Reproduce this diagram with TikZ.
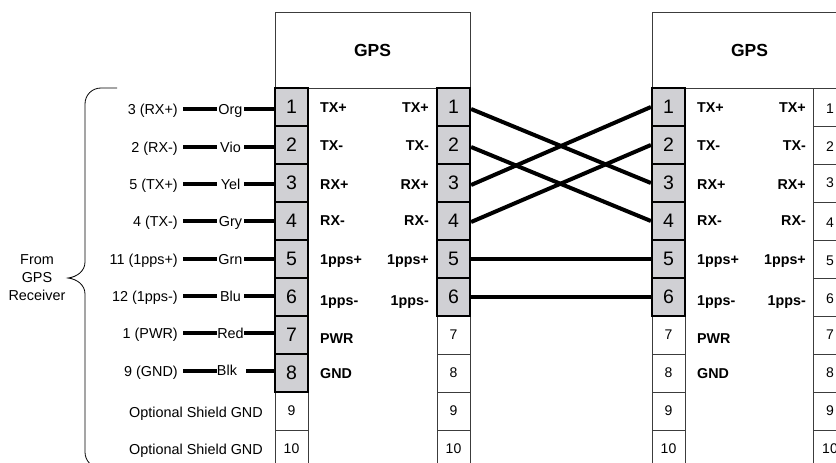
\documentclass[tikz,border=0pt]{standalone}
\usepackage{fontspec}
\setmainfont{Liberation Sans}
\usepackage{tikz}
\definecolor{pingray}{RGB}{208,208,212}
\definecolor{boxline}{RGB}{60,60,60}
\tikzset{
  gpsbox/.style={draw=boxline, line width=0.9pt, minimum width=195pt, minimum height=76pt, inner sep=0pt, font=\fontsize{17.5}{20}\selectfont\bfseries},
  bigpin/.style={draw=black, fill=pingray, line width=2.2pt, minimum width=33pt, minimum height=38pt, inner sep=0pt, font=\fontsize{19.5}{22}\selectfont},
  smallpin/.style={draw=boxline, fill=white, line width=0.9pt, minimum width=33pt, minimum height=38pt, inner sep=0pt, font=\fontsize{14}{16}\selectfont},
  lowpin/.style={smallpin, text height=13.4pt, text depth=0pt},
  plain/.style={inner sep=0pt, text height=10.3pt, text depth=0pt, font=\fontsize{14.4}{17}\selectfont},
  source/.style={plain, anchor=east, inner xsep=5pt},
  wirename/.style={plain, minimum width=27pt},
  sigleft/.style={plain, anchor=west, font=\fontsize{14.3}{17}\selectfont\bfseries},
  sigright/.style={plain, anchor=east, font=\fontsize{14.3}{17}\selectfont\bfseries},
  wire/.style={line width=4pt, black},
}
\begin{document}
\begin{tikzpicture}[x=1pt, y=-1pt]
      \clip (0, 0) rectangle (836, 463);
      \useasboundingbox (0, 0) rectangle (836, 463);
      % headers
      \node[gpsbox] (gpsa) at (372.5, 50) {GPS};
      \node[gpsbox] (gpsb) at (749.5, 50) {GPS};
      % unused pins
      \node[smallpin] (a9)  at (291.5, 411) {9};
      \node[smallpin] (a10) at (291.5, 449) {10};
      \node[smallpin] (c7)  at (453.5, 335) {7};
      \node[smallpin] (c8)  at (453.5, 373) {8};
      \node[smallpin] (c9)  at (453.5, 411) {9};
      \node[smallpin] (c10) at (453.5, 449) {10};
      \node[smallpin] (b7)  at (668.5, 335) {7};
      \node[smallpin] (b8)  at (668.5, 373) {8};
      \node[smallpin] (b9)  at (668.5, 411) {9};
      \node[smallpin] (b10) at (668.5, 449) {10};
      \node[lowpin]   (d1)  at (830, 107) {1};
      \node[lowpin]   (d2)  at (830, 145) {2};
      \node[smallpin] (d3)  at (830, 183) {3};
      \node[lowpin]   (d4)  at (830, 221) {4};
      \node[lowpin]   (d5)  at (830, 259) {5};
      \node[lowpin]   (d6)  at (830, 297) {6};
      \node[smallpin] (d7)  at (830, 335) {7};
      \node[smallpin] (d8)  at (830, 373) {8};
      \node[smallpin] (d9)  at (830, 411) {9};
      \node[smallpin] (d10) at (830, 449) {10};
      % wired pins
      \node[bigpin] (a1) at (291.5, 107) {1};
      \node[bigpin] (a2) at (291.5, 145) {2};
      \node[bigpin] (a3) at (291.5, 183) {3};
      \node[bigpin] (a4) at (291.5, 221) {4};
      \node[bigpin] (a5) at (291.5, 259) {5};
      \node[bigpin] (a6) at (291.5, 297) {6};
      \node[bigpin] (a7) at (291.5, 335) {7};
      \node[bigpin] (a8) at (291.5, 373) {8};
      \node[bigpin] (c1) at (453.5, 107) {1};
      \node[bigpin] (c2) at (453.5, 145) {2};
      \node[bigpin] (c3) at (453.5, 183) {3};
      \node[bigpin] (c4) at (453.5, 221) {4};
      \node[bigpin] (c5) at (453.5, 259) {5};
      \node[bigpin] (c6) at (453.5, 297) {6};
      \node[bigpin] (b1) at (668.5, 107) {1};
      \node[bigpin] (b2) at (668.5, 145) {2};
      \node[bigpin] (b3) at (668.5, 183) {3};
      \node[bigpin] (b4) at (668.5, 221) {4};
      \node[bigpin] (b5) at (668.5, 259) {5};
      \node[bigpin] (b6) at (668.5, 297) {6};
      % signal names
      \node[sigleft]  (ta1) at (320, 107) {TX+};
      \node[sigleft]  (ta2) at (320, 145) {TX-};
      \node[sigleft]  (ta3) at (320, 184) {RX+};
      \node[sigleft]  (ta4) at (320, 220) {RX-};
      \node[sigleft]  (ta5) at (320, 259) {1pps+};
      \node[sigleft]  (ta6) at (320, 300) {1pps-};
      \node[sigleft]  (ta7) at (320, 338) {PWR};
      \node[sigleft]  (ta8) at (320, 373) {GND};
      \node[sigright] (tc1) at (429, 107) {TX+};
      \node[sigright] (tc2) at (429, 145) {TX-};
      \node[sigright] (tc3) at (429, 184) {RX+};
      \node[sigright] (tc4) at (429, 220) {RX-};
      \node[sigright] (tc5) at (429, 259) {1pps+};
      \node[sigright] (tc6) at (429, 300) {1pps-};
      \node[sigleft]  (tb1) at (697, 107) {TX+};
      \node[sigleft]  (tb2) at (697, 145) {TX-};
      \node[sigleft]  (tb3) at (697, 184) {RX+};
      \node[sigleft]  (tb4) at (697, 220) {RX-};
      \node[sigleft]  (tb5) at (697, 259) {1pps+};
      \node[sigleft]  (tb6) at (697, 300) {1pps-};
      \node[sigleft]  (tb7) at (697, 338) {PWR};
      \node[sigleft]  (tb8) at (697, 373) {GND};
      \node[sigright] (td1) at (806, 107) {TX+};
      \node[sigright] (td2) at (806, 145) {TX-};
      \node[sigright] (td3) at (806, 184) {RX+};
      \node[sigright] (td4) at (806, 220) {RX-};
      \node[sigright] (td5) at (806, 259) {1pps+};
      \node[sigright] (td6) at (806, 300) {1pps-};
      % receiver side
      \node[source] (s1) at (183, 109) {3 (RX+)};
      \node[source] (s2) at (183, 147) {2 (RX-)};
      \node[source] (s3) at (183, 184) {5 (TX+)};
      \node[source] (s4) at (183, 221) {4 (TX-)};
      \node[source] (s5) at (183, 259) {11 (1pps+)};
      \node[source] (s6) at (183, 296) {12 (1pps-)};
      \node[source] (s7) at (183, 333) {1 (PWR)};
      \node[source] (s8) at (183, 371) {9 (GND)};
      \node[wirename] (w1) at (230.5, 109) {Org};
      \node[wirename] (w2) at (230.5, 147) {Vio};
      \node[wirename] (w3) at (230.5, 184) {Yel};
      \node[wirename] (w4) at (230.5, 221) {Gry};
      \node[wirename] (w5) at (230.5, 259) {Grn};
      \node[wirename] (w6) at (230.5, 296) {Blu};
      \node[wirename] (w7) at (230.5, 333) {Red};
      \node[wirename, minimum width=20pt] (w8) at (227, 370) {Blk};
      \node[plain, anchor=east] (o9)  at (263, 412) {Optional Shield GND};
      \node[plain, anchor=east] (o10) at (263, 449) {Optional Shield GND};
      \node[inner sep=0pt, align=center, font=\fontsize{14.4}{18}\selectfont] (from) at (37, 278) {From\\GPS\\Receiver};
      % cable ends
      \draw[wire] (s1.east) -- (w1.west) (w1.east) -- (w1 -| a1.west);
      \draw[wire] (s2.east) -- (w2.west) (w2.east) -- (w2 -| a2.west);
      \draw[wire] (s3.east) -- (w3.west) (w3.east) -- (w3 -| a3.west);
      \draw[wire] (s4.east) -- (w4.west) (w4.east) -- (w4 -| a4.west);
      \draw[wire] (s5.east) -- (w5.west) (w5.east) -- (w5 -| a5.west);
      \draw[wire] (s6.east) -- (w6.west) (w6.east) -- (w6 -| a6.west);
      \draw[wire] (s7.east) -- (w7.west) (w7.east) -- (w7 -| a7.west);
      \draw[wire] (s8.east) -- (s8.east -| w8.west) ([xshift=9pt]w8.east |- s8) -- (s8 -| a8.west);
      % crossover
      \draw[wire] ([yshift=-2pt]c1.east) -- (b3.west);
      \draw[wire] ([yshift=-2pt]c2.east) -- (b4.west);
      \draw[wire] ([yshift=-2pt]c3.east) -- (b1.west);
      \draw[wire] ([yshift=-1pt]c4.east) -- (b2.west);
      \draw[wire] (c5.east) -- (b5.west);
      \draw[wire] (c6.east) -- (b6.west);
      % brace
      \draw[line width=0.8pt, black] (117, 88) -- (101, 88)
          .. controls (92, 88) and (85, 95) .. (85, 104) -- (85, 262)
          .. controls (85, 271) and (77, 277) .. (68, 278)
          .. controls (77, 279) and (85, 285) .. (85, 294) -- (85, 452)
          .. controls (85, 461) and (92, 468) .. (101, 468) -- (117, 468);
\end{tikzpicture}
\end{document}
